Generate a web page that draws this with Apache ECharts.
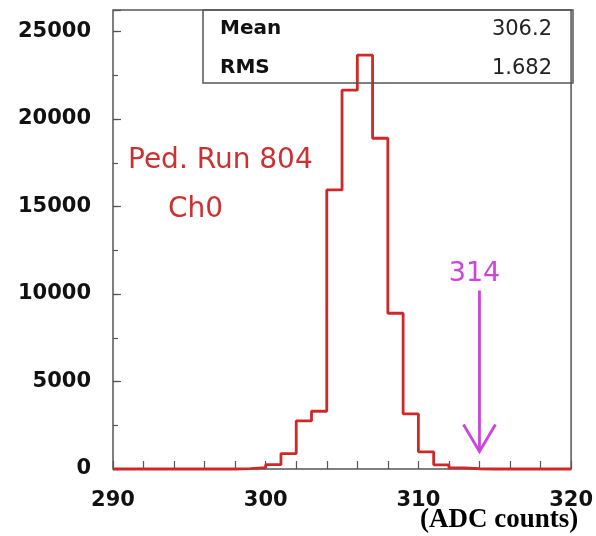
<!DOCTYPE html>
<html>
<head>
<meta charset="utf-8">
<script src="https://cdn.jsdelivr.net/npm/echarts@6/dist/echarts.min.js"></script>
<style>
  html, body { margin: 0; padding: 0; background: #fff; }
  #chart { width: 596px; height: 536px; }
</style>
</head>
<body>
<div id="chart"></div>
<script>
// Pedestal histogram, one ADC count per bin starting at binStart
var binStart = 290;
var binWidth = 1;
var counts = [
  0, 0, 0, 0, 0, 0, 0, 0, 20, 80,          // 290-299
  250, 880, 2750, 3300, 15950, 21650, 23650, 18900, 8900, 3150,  // 300-309
  980, 240, 60, 15, 0, 0, 0, 0, 0, 0       // 310-319
];

// Threshold marker
var thresholdX = 314;
var arrowTopY = 10200;
var arrowTipY = 1000;
var thresholdLabel = '314';

// Statistics box
var statNames = ['Mean', 'RMS'];
var statValues = ['306.2', '1.682'];

// Axis ranges
var xMin = 290, xMax = 320;
var yMin = 0, yMax = 26230;

var histData = [];
for (var i = 0; i < counts.length; i++) {
  histData.push([binStart + i * binWidth, counts[i]]);
}
histData.push([binStart + counts.length * binWidth, counts[counts.length - 1]]);

var red = '#cf2828';
var magenta = '#cc44dd';
var frame = '#555555';

var chart = echarts.init(document.getElementById('chart'), null, { renderer: 'canvas' });

var statGraphics = [{
  type: 'rect',
  shape: { x: 203, y: 10, width: 370, height: 73 },
  style: { fill: 'none', stroke: frame, lineWidth: 1.5 },
  z: 5
}];
for (var k = 0; k < statNames.length; k++) {
  statGraphics.push({
    type: 'text', left: 220, top: 19 + k * 39, z: 6,
    style: { text: statNames[k], font: 'bold 20px "DejaVu Sans"', fill: '#111' }
  });
  statGraphics.push({
    type: 'text', right: 44, top: 19 + k * 39, z: 6,
    style: { text: statValues[k], font: '21px "DejaVu Sans"', fill: '#222', textAlign: 'right' }
  });
}

chart.setOption({
  animation: false,
  backgroundColor: '#fff',
  grid: {
    left: 113, right: 23, top: 10, bottom: 67,
    show: true, borderColor: frame, borderWidth: 1.5, backgroundColor: 'transparent'
  },
  xAxis: {
    type: 'value', min: xMin, max: xMax, interval: 2,
    axisLine: { show: false },
    splitLine: { show: false },
    axisTick: { show: true, inside: true, length: 8, lineStyle: { color: frame, width: 1.2 } },
    axisLabel: {
      margin: 21, color: '#111',
      fontFamily: 'DejaVu Sans', fontWeight: 'bold', fontSize: 21,
      formatter: function (v) { return v % 10 === 0 ? String(v) : ''; }
    }
  },
  yAxis: [{
    type: 'value', min: yMin, max: yMax, interval: 5000,
    axisLine: { show: false },
    splitLine: { show: false },
    axisTick: { show: true, inside: true, length: 8, lineStyle: { color: frame, width: 1.2 } },
    axisLabel: {
      margin: 22, color: '#111',
      fontFamily: 'DejaVu Sans', fontWeight: 'bold', fontSize: 21,
      formatter: function (v) { return v % 5000 === 0 ? String(v) : ''; }
    }
  }, {
    type: 'value', min: yMin, max: yMax, interval: 2500, position: 'left',
    axisLine: { show: false },
    splitLine: { show: false },
    axisTick: { show: true, inside: true, length: 5, lineStyle: { color: frame, width: 1.2 } },
    axisLabel: { show: false }
  }],
  series: [{
    type: 'line',
    data: histData,
    step: 'end',
    symbol: 'none',
    clip: false,
    z: 3,
    lineStyle: { color: red, width: 2.8 }
  }, {
    type: 'custom',
    data: [[thresholdX, arrowTopY, arrowTipY]],
    clip: false,
    z: 4,
    renderItem: function (params, api) {
      var top = api.coord([api.value(0), api.value(1)]);
      var tip = api.coord([api.value(0), api.value(2)]);
      return {
        type: 'group',
        children: [{
          type: 'line',
          shape: { x1: top[0], y1: top[1], x2: tip[0], y2: tip[1] },
          style: { stroke: magenta, lineWidth: 2.8 }
        }, {
          type: 'polyline',
          shape: { points: [[tip[0] - 16, tip[1] - 27], [tip[0], tip[1]], [tip[0] + 16, tip[1] - 27]] },
          style: { stroke: magenta, lineWidth: 2.8, fill: 'none' }
        }, {
          type: 'text',
          style: {
            text: thresholdLabel, x: top[0] - 5, y: top[1] - 17,
            font: '27px "DejaVu Sans"', fill: magenta,
            textAlign: 'center', textVerticalAlign: 'middle'
          }
        }]
      };
    }
  }],
  graphic: statGraphics.concat([{
    type: 'text', left: 128, top: 147, z: 6,
    style: { text: 'Ped. Run 804', font: '28px "DejaVu Sans"', fill: '#cc3030' }
  }, {
    type: 'text', left: 168, top: 196, z: 6,
    style: { text: 'Ch0', font: '28px "DejaVu Sans"', fill: '#cc3030' }
  }, {
    type: 'text', left: 420, top: 507, z: 6,
    style: { text: '(ADC counts)', font: 'bold 27px "Liberation Serif"', fill: '#000' }
  }])
});
</script>
</body>
</html>
